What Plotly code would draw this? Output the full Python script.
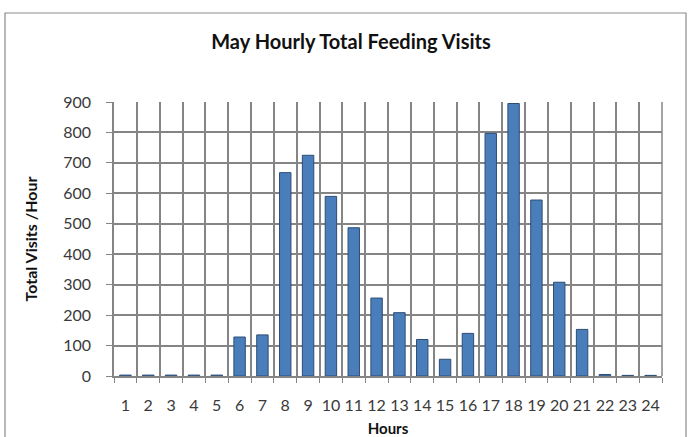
import plotly.graph_objects as go

hours = [str(h) for h in range(1, 25)]
visits = [3, 3, 3, 3, 3, 128, 135, 668, 725, 590, 487, 256, 208, 120, 55, 140,
          797, 895, 578, 308, 153, 5, 2, 2]
y_ticks = [0, 100, 200, 300, 400, 500, 600, 700, 800, 900]

FONT = "Lato, Open Sans, Liberation Sans, sans-serif"
GRID = "#858585"
TXT = "#3a3a3a"

fig = go.Figure()
fig.add_trace(go.Bar(
    x=hours, y=visits, width=0.5,
    marker=dict(color="#4A7EBB", line=dict(color="#2C4D75", width=1)),
    hoverinfo="x+y",
))

# plot area in page pixels
L, R, T, B = 114, 662, 102, 376
W, H = 688, 437
pw, ph = R - L, B - T

def px(x):
    return (x - L) / pw

def py(y):
    return (B - y) / ph

fig.update_layout(
    width=W, height=H,
    margin=dict(l=L, r=W - R, t=T, b=H - B, pad=0, autoexpand=False),
    paper_bgcolor="white", plot_bgcolor="white",
    showlegend=False,
    bargap=0.5,
    title=dict(text="<b>May Hourly Total Feeding Visits</b>",
               font=dict(family=FONT, size=20, color="#111"),
               x=351 / W, xanchor="center", y=1 - 42 / H, yanchor="middle"),
    font=dict(family=FONT, size=16, color=TXT),
    xaxis=dict(
        type="category", tickson="boundaries", automargin=False,
        showgrid=True, gridcolor=GRID, gridwidth=1.5,
        showline=True, linecolor=GRID, linewidth=1.5,
        ticks="outside", ticklen=5, tickcolor=GRID,
        tickangle=0, ticklabelstandoff=14,
        tickfont=dict(size=16, family=FONT, color=TXT),
        title=dict(text="<b>Hours</b>", font=dict(size=15, family=FONT, color="#111"), standoff=12),
    ),
    yaxis=dict(
        range=[0, 900], tickvals=y_ticks, automargin=False,
        showgrid=True, gridcolor=GRID, gridwidth=1.5,
        showline=True, linecolor=GRID, linewidth=1.5,
        ticks="outside", ticklen=6, tickcolor=GRID,
        ticklabelstandoff=12,
        tickfont=dict(size=16, family=FONT, color=TXT),
        title=dict(text="<b>Total Visits /Hour</b>", font=dict(size=16, family=FONT, color="#111"), standoff=22),
        zeroline=False,
    ),
)

# right edge of back wall
fig.add_shape(type="line", xref="paper", yref="paper", x0=1, x1=1, y0=0, y1=1,
              line=dict(color=GRID, width=1.5))
# outer chart border
fig.add_shape(type="rect", xref="paper", yref="paper",
              x0=px(5), x1=px(686), y0=py(13), y1=py(445),
              line=dict(color="#8c8c8c", width=1.2), layer="below")

fig.write_html("out.html", config={"displayModeBar": False},
               post_script="document.body.style.margin='0';")
